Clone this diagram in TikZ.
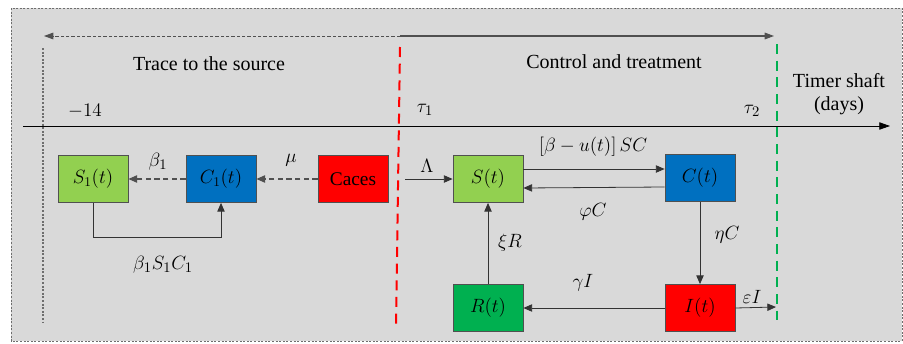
\documentclass[tikz,border=0pt]{standalone}
\usepackage{fontspec}
\setmainfont{Liberation Serif}
\usepackage{amsmath}
\usetikzlibrary{arrows.meta}

\definecolor{bgGray}{RGB}{217,217,217}
\definecolor{frameGray}{RGB}{110,110,110}
\definecolor{lineGray}{RGB}{80,80,80}
\definecolor{susGreen}{RGB}{146,208,80}
\definecolor{recGreen}{RGB}{0,176,80}
\definecolor{carBlue}{RGB}{0,112,192}
\definecolor{infRed}{RGB}{255,0,0}
\definecolor{ctlGreen}{RGB}{0,176,80}

\begin{document}
\begin{tikzpicture}[x=0.75pt,y=0.75pt,yscale=-1,xscale=1,
  box/.style={draw=lineGray, line width=0.6pt, minimum width=52.5pt, minimum height=35.25pt, inner sep=0pt, font=\fontsize{14.5}{16}\selectfont},
  flow/.style={draw=black!80, line width=0.6pt, -{Triangle[length=6.5pt,width=5.5pt]}},
  dflow/.style={flow, draw=lineGray, line width=0.8pt, dash pattern={on 4pt off 2.5pt}},
  lbl/.style={inner sep=0.75pt, font=\fontsize{15}{17}\selectfont}]
\useasboundingbox (0,0) rectangle (903,343);

%Background frame
\draw [draw=frameGray, fill=bgGray, line width=0.6pt, dash pattern={on 1.5pt off 1.2pt}] (11,8) rectangle (902,341);

%Coordinates
\coordinate (split) at (400,36);
\coordinate (leftEnd) at (44,36);
\coordinate (rightEnd) at (774,36);
\coordinate (axisStart) at (23,126);
\coordinate (axisEnd) at (890,126);
\coordinate (lamStart) at (405,179);
\coordinate (outEnd) at (776,307);

%Time periods
\draw [draw=lineGray, line width=0.6pt, dash pattern={on 2.5pt off 1.5pt}, -{Triangle[length=7pt,width=5pt]}] (split) -- (leftEnd) ;
\draw [draw=lineGray, line width=0.8pt, -{Triangle[length=7pt,width=5pt]}] (split) -- (rightEnd) ;
%Straight Lines
\draw [draw=frameGray, line width=0.8pt, dash pattern={on 1.5pt off 1.2pt}] (43,48) -- (43,322) ;
%Time axis
\draw [line width=0.6pt, -{Triangle[length=8pt,width=5.5pt]}] (axisStart) -- (axisEnd) ;
%Straight Lines
\draw [draw=infRed, line width=1.5pt, dash pattern={on 7.5pt off 5pt}] (400,47) -- (396,327) ;
\draw [draw=ctlGreen, line width=1.5pt, dash pattern={on 7.5pt off 5pt}] (777,44) -- (777,320) ;

% Text Node
\node [lbl] (trace) at (209,64) {Trace to the source};
\node [lbl] (control) at (614,62) {Control and treatment};
\node [lbl, align=center] (shaft) at (839,94) {Timer shaft\\(days)};
\node [lbl] (tStart) at (85,111) {$-14$};
\node [lbl] (tau1) at (425,110) {$\tau_1$};
\node [lbl] (tau2) at (752,111) {$\tau_2$};

%Compartments
\node [box, fill=susGreen] (S1) at (93,179) {$S_1(t)$};
\node [box, fill=carBlue] (C1) at (221,179) {$C_1(t)$};
\node [box, fill=infRed] (caces) at (353,179) {Caces};
\node [box, fill=susGreen] (S) at (488,179) {$S(t)$};
\node [box, fill=carBlue] (C) at (700,178) {$C(t)$};
\node [box, fill=recGreen] (R) at (488,308) {$R(t)$};
\node [box, fill=infRed] (I) at (700,308) {$I(t)$};

%Flows
\draw [dflow] (C1) -- (S1) ;
\draw [dflow] (caces) -- (C1) ;
\draw [flow] (S1.south) -- ++(0,34) -| (C1.south) ;
\draw [flow] (lamStart) -- (S.west) ;
\draw [flow] ([yshift=-7.5pt]S.east) -- ([yshift=-6.75pt]C.west) ;
\draw [flow] ([yshift=6.75pt]C.west) -- ([yshift=6.75pt]S.east) ;
\draw [flow] (C) -- (I) ;
\draw [flow] (I) -- (R) ;
\draw [flow] (R) -- (S) ;
\draw [flow] (I.east) -- (outEnd) ;

% Text Node
\node [lbl] (beta1) at (158,162) {$\beta_1$};
\node [lbl] (mu) at (291,160) {$\mu$};
\node [lbl] (infect1) at (163,265) {$\beta_1 S_1 C_1$};
\node [lbl] (lambda) at (427,166) {$\Lambda$};
\node [lbl] (infect) at (593,147) {$\left[\beta - u(t)\right]SC$};
\node [lbl] (phiC) at (593,212) {$\varphi C$};
\node [lbl] (etaC) at (727,235) {$\eta C$};
\node [lbl] (gammaI) at (583,283) {$\gamma I$};
\node [lbl] (xiR) at (510,243) {$\xi R$};
\node [lbl] (epsI) at (752,297) {$\varepsilon I$};

\end{tikzpicture}
\end{document}
